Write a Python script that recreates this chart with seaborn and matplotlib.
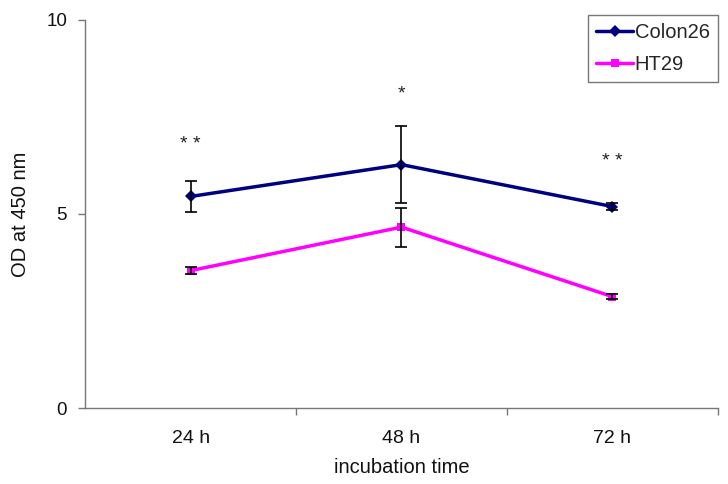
"""
OD at 450 nm over incubation time for Colon26 and HT29 cells.
"""

import matplotlib
matplotlib.use("Agg")
import matplotlib.pyplot as plt
import pandas as pd
import seaborn as sns

# values
times = ["24 h", "48 h", "72 h"]
colon26_od = [5.45, 6.27, 5.19]
colon26_err = [0.39, 0.99, 0.10]
ht29_od = [3.54, 4.66, 2.87]
ht29_err = [0.10, 0.50, 0.07]
marks = ["* *", "*", "* *"]
mark_y = [6.8, 8.1, 6.35]

colors = {"Colon26": "#000080", "HT29": "#FF00FF"}
markers = {"Colon26": "D", "HT29": "s"}


def build_frame():
    rows = []
    for i, t in enumerate(times):
        rows.append({"pos": i, "time": t, "cell": "Colon26", "od": colon26_od[i], "err": colon26_err[i]})
        rows.append({"pos": i, "time": t, "cell": "HT29", "od": ht29_od[i], "err": ht29_err[i]})
    return pd.DataFrame(rows)


def main():
    df = build_frame()
    sns.set_style("white")
    plt.rcParams["font.family"] = ["Liberation Sans", "DejaVu Sans"]

    fig, ax = plt.subplots(figsize=(7.28, 4.84), dpi=100)
    fig.subplots_adjust(left=0.117, right=0.986, top=0.959, bottom=0.157)

    sns.lineplot(data=df, x="pos", y="od", hue="cell", style="cell",
                 palette=colors, markers=markers, dashes=False,
                 linewidth=2.5, markersize=6, markeredgewidth=0, ax=ax)

    # error bars in black, drawn from the same frame
    for cell in ["Colon26", "HT29"]:
        sub = df[df["cell"] == cell]
        ax.errorbar(sub["pos"], sub["od"], yerr=sub["err"], fmt="none",
                    ecolor="black", elinewidth=1.2, capsize=4, capthick=1.2, zorder=3)

    for i, m in enumerate(marks):
        ax.text(i, mark_y[i], m, ha="center", va="center", fontsize=14, color="#222222")

    ax.set_xlim(-0.5, 2.5)
    ax.set_ylim(0, 10)
    ax.set_yticks([0, 5, 10])
    ax.set_xticks(range(len(times)))
    ax.set_xticklabels(times)
    ax.set_xticks([0.5, 1.5, 2.5], minor=True)
    ax.tick_params(axis="x", which="major", length=0, pad=16, labelsize=14, colors="#111111")
    ax.tick_params(axis="x", which="minor", length=5, width=1, color="#777777", bottom=True)
    ax.tick_params(axis="y", length=5, width=1, color="#777777", left=True, pad=8,
                   labelsize=13.5, labelcolor="#111111")

    for side in ["top", "right"]:
        ax.spines[side].set_visible(False)
    for side in ["left", "bottom"]:
        ax.spines[side].set_color("#777777")
        ax.spines[side].set_linewidth(1)

    ax.set_xlabel("incubation time", fontsize=14.5, labelpad=8, color="#111111")
    ax.set_ylabel("OD at 450 nm", fontsize=14.5, labelpad=12, color="#111111")

    handles, labels = ax.get_legend_handles_labels()
    leg = ax.legend(handles, labels, loc="upper right", bbox_to_anchor=(1.0, 1.013),
                    fontsize=14.5, frameon=True, fancybox=False, framealpha=1,
                    edgecolor="#777777", handlelength=1.8, handletextpad=0.1,
                    borderpad=0.4, labelspacing=0.65, borderaxespad=0)
    leg.get_frame().set_linewidth(1)

    plt.savefig("out.png", dpi=100)
    plt.close()


if __name__ == "__main__":
    main()
